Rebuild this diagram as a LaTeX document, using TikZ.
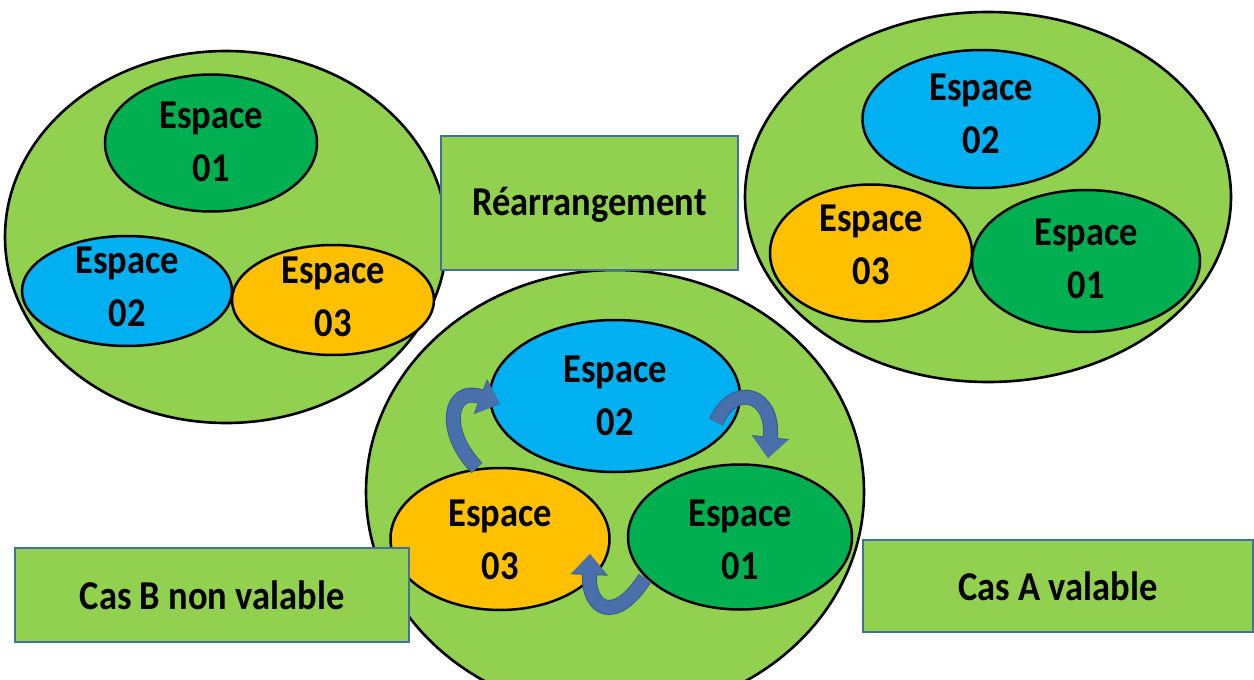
\documentclass[tikz,border=0pt]{standalone}
\usepackage{fontspec}
\setmainfont{Carlito}[FakeStretch=0.89]
\usetikzlibrary{shapes.geometric,arrows.meta}
\definecolor{lgreen}{HTML}{92D050}
\definecolor{dgreen}{HTML}{00B050}
\definecolor{lblue}{HTML}{00B0F0}
\definecolor{orng}{HTML}{FFC000}
\definecolor{bordblue}{HTML}{41719C}
\definecolor{arrblue}{HTML}{4A70AC}
\definecolor{arrdark}{HTML}{3A5A90}
\tikzset{
  bigell/.style={ellipse, draw=black, line width=2.6pt, fill=lgreen, inner sep=0pt},
  smell/.style={ellipse, draw=black, line width=2.5pt, inner sep=0pt},
  txt/.style={align=center, font=\fontsize{41}{53}\selectfont\bfseries, inner sep=0pt},
  boxst/.style={rectangle, draw=bordblue, line width=2pt, fill=lgreen, inner sep=0pt},
  curv/.style={draw=arrblue, line width=13pt, -{Triangle[width=34pt,length=20pt]}, preaction={draw=arrdark, line width=15pt, -{Triangle[width=36pt,length=21pt]}}}
}
\begin{document}
\begin{tikzpicture}[x=1pt,y=-1pt]
\useasboundingbox (0,0) rectangle (1254,680);
\clip (0,0) rectangle (1254,680);
% big ellipses
\node[bigell, minimum width=442pt, minimum height=372pt] (L) at (226,237) {};
\node[bigell, minimum width=486pt, minimum height=370pt] (R) at (988,197) {};
\node[bigell, minimum width=498pt, minimum height=444pt] (B) at (615,492) {};
% left inner
\node[smell, fill=dgreen, minimum width=212pt, minimum height=137pt] (L1) at (211,143) {};
\node[smell, fill=lblue, minimum width=210pt, minimum height=110pt] (L2) at (127,291) {};
\node[smell, fill=orng, minimum width=202pt, minimum height=110pt] (L3) at (333,300) {};
\node[txt] (tL1) at ([yshift=1pt]L1) {Espace\\01};
\node[txt] (tL2) at ([yshift=4pt]L2) {Espace\\02};
\node[txt] (tL3) at ([yshift=3pt]L3) {Espace\\03};
% right inner
\node[smell, fill=lblue, minimum width=237pt, minimum height=138pt] (R2) at (981,119) {};
\node[smell, fill=orng, minimum width=202pt, minimum height=137pt] (R3) at (871,253) {};
\node[smell, fill=dgreen, minimum width=228pt, minimum height=142pt] (R1) at (1086,261) {};
\node[txt] (tR2) at ([yshift=5pt]R2) {Espace\\02};
\node[txt] (tR3) at ([yshift=8pt]R3) {Espace\\03};
\node[txt] (tR1) at ([yshift=2pt]R1) {Espace\\01};
% bottom inner
\node[smell, fill=lblue, minimum width=250pt, minimum height=152pt] (B2) at (615,396) {};
\node[smell, fill=orng, minimum width=219pt, minimum height=142pt] (B3) at (500,539) {};
\node[smell, fill=dgreen, minimum width=224pt, minimum height=145pt] (B1) at (740,537) {};
\node[txt] (tB2) at (B2) {Espace\\02};
\node[txt] (tB3) at ([yshift=-1pt]B3) {Espace\\03};
\node[txt] (tB1) at ([yshift=-3pt]B1) {Espace\\01};
% curved arrows
\coordinate (a1s) at (477,468);
\coordinate (a1e) at (500,404);
\coordinate (a2s) at (716,422);
\coordinate (a2e) at (768,458);
\coordinate (a3s) at (645,578);
\coordinate (a3e) at (590,554);
\draw[curv] (a1s) .. controls (440,430) and (450,385) .. (a1e);
\draw[curv] (a2s) .. controls (735,380) and (775,395) .. (a2e);
\draw[curv] (a3s) .. controls (615,625) and (588,610) .. (a3e);
% boxes
\node[boxst, minimum width=297pt, minimum height=134pt] (rea) at (589.5,203) {};
\node[txt] (trea) at ([yshift=-2pt]rea) {Réarrangement};
\node[boxst, minimum width=394pt, minimum height=94pt] (casB) at (212,595) {};
\node[txt] (tcasB) at (casB) {Cas B non valable};
\node[boxst, minimum width=390pt, minimum height=92pt] (casA) at (1058,586) {};
\node[txt] (tcasA) at (casA) {Cas A valable};
\end{tikzpicture}
\end{document}
